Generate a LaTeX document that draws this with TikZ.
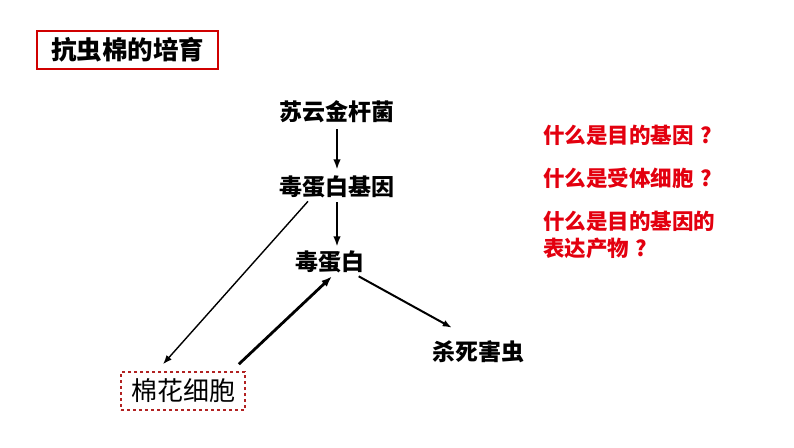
\documentclass[tikz,border=0pt]{standalone}
\usepackage{fontspec}
\setmainfont{Noto Sans CJK SC}
\usepackage{tikz}
\usetikzlibrary{arrows.meta,positioning,calc}
\definecolor{Ink}{HTML}{000000}
\definecolor{Alert}{HTML}{E3000F}
\definecolor{BoxRed}{HTML}{D00000}
\definecolor{DashRed}{HTML}{B22222}
\tikzset{
  term/.style={inner sep=3pt,text=Ink,font=\bfseries\fontsize{23}{26}\selectfont},
  question/.style={anchor=west,inner sep=0pt,text=Alert,align=left,font=\bfseries\fontsize{21.5}{27}\selectfont},
  arrow/.style={-{Latex[length=3.6mm,width=2.6mm]},line width=2pt,draw=Ink},
  thinArrow/.style={-{Latex[length=3.2mm,width=2.4mm]},line width=1.4pt,draw=Ink},
  boldArrow/.style={-{Latex[length=3.8mm,width=2.8mm]},line width=2.8pt,draw=Ink}
}

\begin{document}
\begin{tikzpicture}[x=1pt,y=-1pt]
  \useasboundingbox[fill=white] (0,0) rectangle (794,447);
  \node[draw=BoxRed,line width=2.2pt,minimum width=181pt,minimum height=38pt,font=\bfseries\fontsize{25.5}{28}\selectfont] (title) at (127.5,50) {抗虫棉的培育};

  \node[term] (bt) at (337,112) {苏云金杆菌};
  \node[term] (gene) at (337,187) {毒蛋白基因};
  \node[term] (toxin) at (330,262) {毒蛋白};
  \node[term] (kill) at (478,352) {杀死害虫};
  \node[draw=DashRed,dashed,line width=1.6pt,minimum width=124pt,minimum height=38pt,font=\fontsize{26}{28}\selectfont] (cotton) at (183,391) {棉花细胞};

  \draw[arrow,shorten <=3pt,shorten >=3pt] (bt) -- (gene);
  \draw[arrow,shorten <=1pt,shorten >=1pt] (gene.south) -- (toxin.north -| gene.south);
  \draw[thinArrow] ([xshift=-29pt]gene.south) -- ([shift={(-20pt,7pt)}]cotton.north);
  \draw[boldArrow] ([shift={(-7pt,7pt)}]cotton.north east) -- ([xshift=2pt]toxin.south);
  \draw[thinArrow,line width=2pt] ([xshift=-9pt]toxin.south east) -- ([shift={(23pt,10pt)}]kill.north west);

  \node[question] (q1) at (543,135) {什么是目的基因\hspace{0.3em}?};
  \node[question] (q2) at (543,178) {什么是受体细胞\hspace{0.3em}?};
  \node[question,anchor=north west] (q3) at (543,211) {什么是目的基因的\\表达产物\hspace{0.3em}?};
\end{tikzpicture}
\end{document}
